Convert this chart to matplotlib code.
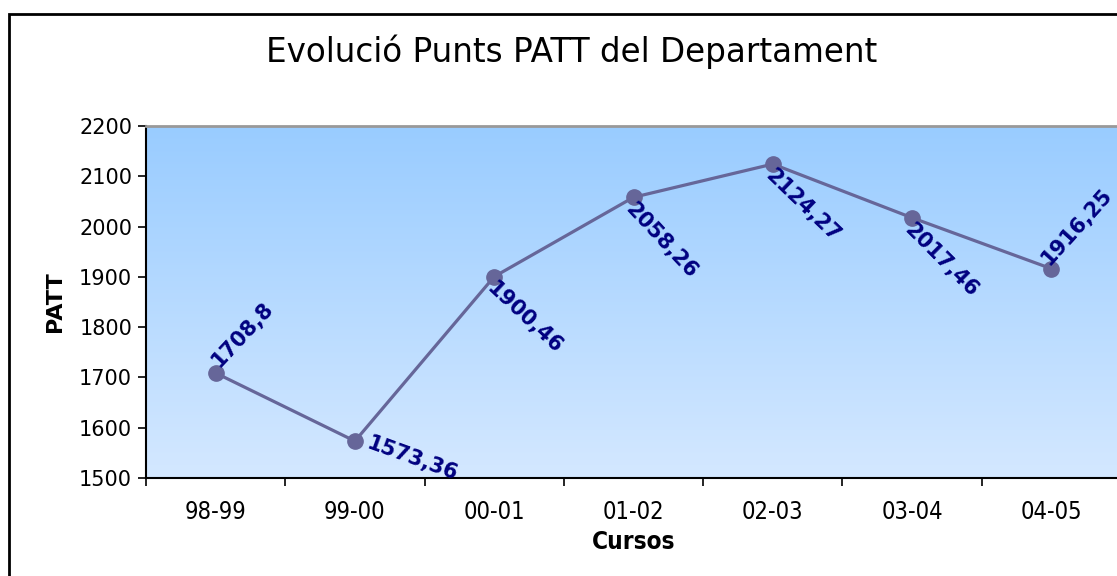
import numpy as np
import matplotlib.pyplot as plt
from matplotlib.patches import Rectangle

cursos = ['98-99', '99-00', '00-01', '01-02', '02-03', '03-04', '04-05']
patt = [1708.8, 1573.36, 1900.46, 2058.26, 2124.27, 2017.46, 1916.25]
etiquetes = ['1708,8', '1573,36', '1900,46', '2058,26', '2124,27', '2017,46', '1916,25']
# label angle for each point
angles = [47, -20, -43, -47, -44, -45, 48]

fig = plt.figure(figsize=(11.17, 5.76), dpi=100)
fig.patches.append(Rectangle((9 / 1117, -0.1), 1.2, (576 - 14) / 576 + 0.1,
                             transform=fig.transFigure, fill=False,
                             edgecolor='black', linewidth=2, zorder=0))

ax = fig.add_axes([146 / 1117, 98 / 576, (1121 - 146) / 1117, (478 - 126) / 576])
x = np.arange(len(cursos))
ax.set_xlim(-0.5, len(cursos) - 0.5)
ax.set_ylim(1500, 2200)

# gradient background
grad = np.linspace(0, 1, 256).reshape(-1, 1)
top = np.array([153, 204, 255]) / 255
bot = np.array([212, 232, 255]) / 255
img = top + (bot - top) * grad[:, :, None] * np.ones((1, 1, 3))
ax.imshow(img, extent=[-0.5, len(cursos) - 0.5, 1500, 2200], aspect='auto', zorder=0)

ax.plot(x, patt, color='#666699', linewidth=2.3, marker='o', markersize=11, zorder=3)

for i, (xi, yi, txt, ang) in enumerate(zip(x, patt, etiquetes, angles)):
    if ang > 0:
        off, va = ((5, 2) if i == 0 else (1, 0)), 'bottom'
    elif ang > -30:
        off, va = (9, -1), 'center'
    else:
        off, va = (2, -1), 'top'
    ax.annotate(txt, (xi, yi), xytext=off, textcoords='offset points',
                rotation=ang, rotation_mode='anchor', ha='left', va=va,
                color='#000080', fontweight='bold', fontsize=15, zorder=4)

cond = dict(family='DejaVu Sans', stretch='condensed')
ax.set_yticks(np.arange(1500, 2201, 100))
ax.set_xticks(x)
ax.set_xticklabels(cursos, fontsize=17, **cond)
ax.set_xticks(np.arange(-0.5, len(cursos), 1), minor=True)
ax.tick_params(axis='x', which='major', length=0, pad=16)
ax.tick_params(axis='x', which='minor', length=6, direction='out', width=1.2)
ax.tick_params(axis='y', length=6, direction='out', width=1.2, labelsize=15, pad=4)

ax.spines['top'].set_color('#999999')
ax.spines['top'].set_linewidth(2)
ax.spines['right'].set_visible(False)
ax.spines['left'].set_linewidth(1.5)
ax.spines['bottom'].set_linewidth(1.5)

ax.set_xlabel('Cursos', fontsize=17.5, fontweight='bold', labelpad=4, **cond)
ax.set_ylabel('PATT', fontsize=16, fontweight='bold', labelpad=10)

fig.text(572 / 1117, 1 - 52 / 576, 'Evolució Punts PATT del Departament',
         ha='center', va='center', fontsize=23.5)

fig.savefig('out.png', dpi=100)
